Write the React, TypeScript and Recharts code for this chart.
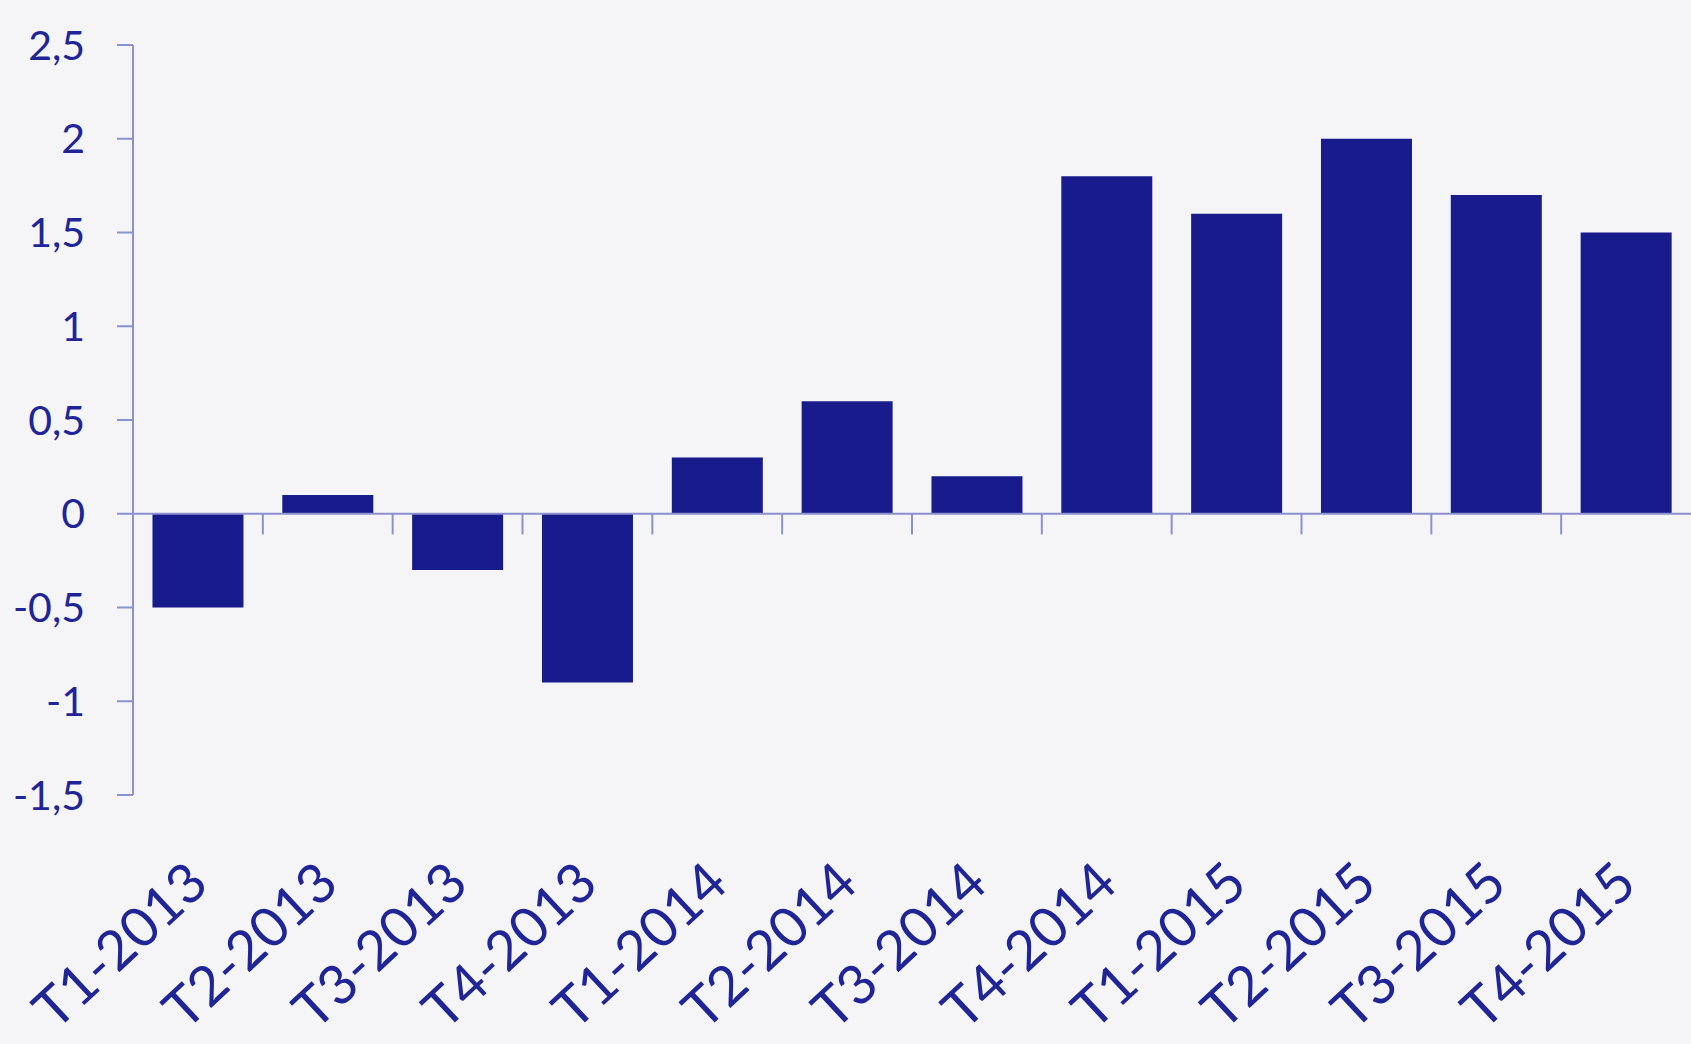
import { Bar, BarChart, ReferenceLine, XAxis, YAxis } from "recharts"

const quarters = [
    "T1-2013", "T2-2013", "T3-2013", "T4-2013",
    "T1-2014", "T2-2014", "T3-2014", "T4-2014",
    "T1-2015", "T2-2015", "T3-2015", "T4-2015",
]
const values = [-0.5, 0.1, -0.3, -0.9, 0.3, 0.6, 0.2, 1.8, 1.6, 2.0, 1.7, 1.5]
const yTicks = [-1.5, -1, -0.5, 0, 0.5, 1, 1.5, 2, 2.5]

const data = quarters.map((q, i) => ({ quarter: q, value: values[i] }))

const BAR = "#171b8c"
const AXIS = "#8d90cf"
const TEXT = "#1f2597"
const FONT = "Lato, 'Open Sans', sans-serif"

const XTick = ({ x, y, payload }: any) => (
    <g transform={`translate(${x + 13},${y + 90})`}>
        <text textAnchor="end" transform="rotate(-43)" fill={TEXT} fontSize={55} fontFamily={FONT}>
            {payload.value}
        </text>
    </g>
)

const App = () => {
    return (
        <div style={{ position: 'absolute', left: 0, top: 0, width: 1691, height: 1044, background: '#f5f5f7' }}>
            <BarChart
                width={1691}
                height={1044}
                data={data}
                margin={{ top: 45, right: 0, bottom: 0, left: 0 }}
                barCategoryGap="15%"
            >
                <XAxis
                    dataKey="quarter"
                    xAxisId="cat"
                    height={249}
                    axisLine={false}
                    tickLine={false}
                    tickSize={0}
                    interval={0}
                    tick={<XTick />}
                />
                <YAxis
                    domain={[-1.5, 2.5]}
                    ticks={yTicks}
                    width={133}
                    interval={0}
                    tickSize={16}
                    tickMargin={32}
                    stroke={AXIS}
                    axisLine={{ stroke: AXIS, strokeWidth: 2 }}
                    tickLine={{ stroke: AXIS, strokeWidth: 2 }}
                    tick={{ fill: TEXT, fontSize: 41, fontFamily: FONT }}
                    tickFormatter={v => String(v).replace('.', ',')}
                />
                <Bar xAxisId="cat" dataKey="value" fill={BAR} isAnimationActive={false} />
                <ReferenceLine xAxisId="cat" y={0} stroke={AXIS} strokeWidth={2} />
                {quarters.slice(0, -1).map(q => (
                    <ReferenceLine
                        key={q}
                        xAxisId="cat"
                        position="end"
                        segment={[{ x: q, y: 0 }, { x: q, y: -0.11 }]}
                        stroke={AXIS}
                        strokeWidth={2}
                    />
                ))}
            </BarChart>
        </div>
    )
}

export default App
